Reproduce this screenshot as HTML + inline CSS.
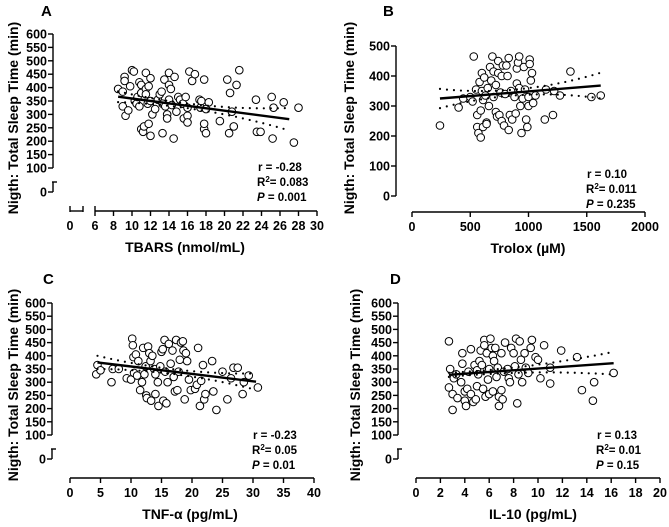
<!DOCTYPE html>
<html><head><meta charset="utf-8"><style>
body{margin:0;background:#fff;}
svg text{font-family:"Liberation Sans",Arial,sans-serif;font-weight:bold;fill:#000;}
</style></head><body>
<svg id="fig" width="669" height="522" viewBox="0 0 669 522" xmlns="http://www.w3.org/2000/svg"></svg>
<script>
// ---- Data ----
const aX=[8.5,9,9.2,9.2,9,9.3,9.6,9.8,10,10.2,10.3,10.5,10.6,10.8,10.8,11,11,11,11.2,11.3,11.5,11.5,11.5,11.7,11.8,12,12,12,11.8,12.2,12.5,12.8,13,13.2,13.3,13.3,13.5,13.6,13.8,13.8,14,14,14,14.2,14.3,14.5,14.6,14.8,15,15.2,15.5,15.6,15.8,16,16,16,16.2,16.5,16.8,17.3,17.4,17.5,17.8,17.8,17.8,18,18,18.3,19.5,20.3,20.5,20.6,20.8,21,21.3,21.6,23.4,23.5,23.9,25.1,25.2,25.3,26.4,27.5,28];
const aY=[395,385,440,425,330,295,315,405,465,460,350,340,365,420,330,380,410,245,235,255,455,395,375,340,265,435,350,220,405,300,320,355,375,385,340,230,430,330,300,285,455,355,410,395,335,210,440,310,365,355,340,285,365,325,295,270,460,425,450,355,325,350,430,245,265,320,230,345,275,430,230,380,310,255,410,465,355,235,235,365,210,325,345,195,325];
const aFit=[8.5,366,27,282]; // x1,y1,x2,y2
const aCI=[[8.5,20],[14,9],[27,42]]; // x, half-width
const bX=[240,400,440,500,520,530,550,560,560,570,580,590,590,600,600,610,610,620,630,640,640,650,660,670,680,690,700,700,720,720,730,740,740,750,760,770,770,780,790,800,810,820,830,830,840,850,860,880,890,900,900,910,920,920,930,940,950,960,970,980,990,1000,1000,1010,1010,1020,1030,1040,1060,1140,1150,1210,1220,1270,1360,1540,1620];
const bY=[235,295,325,330,315,465,355,270,230,210,380,285,195,410,350,320,230,395,335,245,240,360,300,430,385,465,330,415,370,280,265,450,410,270,345,400,250,435,235,340,435,400,460,220,270,350,255,330,275,425,375,445,465,360,300,210,325,430,355,255,230,330,300,455,440,385,410,310,335,255,355,270,350,335,415,330,335];
const bFit=[240,325,1620,368];
const bCI=[[240,32],[800,10],[1620,43]];
const cX=[4.3,4.5,5,6.8,7,8,9.3,10,10.2,10.3,10.4,10.5,10.8,11,11.2,11.5,11.8,12,12.2,12.4,12.5,12.6,12.8,13,13.2,13.3,13.5,13.8,14,14,14.4,14.5,14.8,15,15.2,15.3,15.5,15.6,15.8,16,16.2,16.5,16.8,17,17.2,17.4,17.6,17.8,18,18.2,18.5,18.6,18.8,19,19.2,19.5,19.8,20.5,20.8,21,21.3,21.5,21.8,22,22.2,23.3,23.5,24,25,25.8,26.4,26.8,27.5,28.3,28.5,29.3,30.8];
const cY=[330,365,345,300,350,350,315,310,465,440,395,335,405,325,380,270,300,430,330,360,250,240,435,410,380,230,400,350,330,255,300,210,360,415,425,230,460,340,220,300,445,370,420,320,265,460,270,340,385,450,455,420,235,410,380,310,270,275,290,430,210,305,365,235,255,380,265,195,340,235,315,355,355,255,300,325,280];
const cFit=[4.5,375,30.5,302];
const cCI=[[4.5,25],[16,9],[30.5,31]];
const dX=[2.7,2.7,2.8,3,3,3.1,3.3,3.4,3.7,3.8,3.8,4,4,4.1,4.2,4.3,4.5,4.5,4.7,4.8,4.9,5,5,5.1,5.2,5.3,5.4,5.5,5.6,5.6,5.7,5.8,5.9,6,6,6.1,6.2,6.3,6.3,6.4,6.5,6.6,6.7,6.8,6.8,7,7,7.1,7.2,7.3,7.5,7.6,7.7,7.8,8,8.1,8.2,8.3,8.4,8.5,8.6,8.7,8.9,9,9.2,9.4,9.5,9.8,10,10.2,10.5,11,11,11.9,13.2,13.6,14.5,14.6,16.2];
const dY=[455,280,350,255,195,315,330,240,300,410,370,265,230,210,275,340,425,255,225,365,235,285,345,330,380,420,365,275,460,440,245,410,310,350,255,465,430,400,265,380,430,320,355,245,210,270,410,235,340,450,350,315,300,430,410,360,465,220,330,455,385,300,410,355,335,430,460,395,385,315,440,355,295,420,395,270,230,300,335];
const dFit=[2.7,328,16.2,372];
const dCI=[[2.7,8],[6.5,8],[16.2,43]];
const yTicksBreak=[100,150,200,250,300,350,400,450,500,550,600];
const yTicksB=[0,100,200,300,400,500];
const xTicksA=[6,8,10,12,14,16,18,20,22,24,26,28,30];
const xTicksB=[0,500,1000,1500,2000];
const xTicksC=[0,5,10,15,20,25,30,35,40];
const xTicksD=[0,2,4,6,8,10,12,14,16,18,20];

const NS="http://www.w3.org/2000/svg";
const svg=document.getElementById('fig');
function mk(tag,attrs,parent,text){const e=document.createElementNS(NS,tag);for(const k in attrs)e.setAttribute(k,attrs[k]);if(text!==undefined)e.textContent=text;(parent||svg).appendChild(e);return e;}
function line(g,x1,y1,x2,y2,w){return mk('line',{x1,y1,x2,y2,stroke:'#000','stroke-width':w||1.4},g);}

function panel(P){
  const g=mk('g',{});
  
  
  const sx=v=>P.x0+(v-P.xv0)*(P.x1-P.x0)/(P.xv1-P.xv0);
  const sy=v=>{ if(P.brk && v<P.ybv) return P.yZero; return P.y0+(v-P.yv0)*(P.y1-P.y0)/(P.yv1-P.yv0);};
  const L=mk('text',{x:P.lx,y:P.ly,'font-size':15},g,P.id);
  
  
  const ya=mk('g',{},g);
  
  
  const yTop=sy(P.yTicks[P.yTicks.length-1]), yBot=sy(P.yTicks[0]);
  line(ya,P.ax,yTop,P.ax,yBot);
  P.yTicks.forEach(v=>{const y=sy(v);line(ya,P.ax-5,y,P.ax,y);
    const t=mk('text',{x:P.ax-6,y:y+4.5,'font-size':12.5,'text-anchor':'end'},ya,String(v));
    
    });
  if(P.brk){
    line(ya,P.ax,P.yZero-10,P.ax,P.yZero);
    line(ya,P.ax-1,P.yZero-10,P.ax+4,P.yZero-10);
    line(ya,P.ax-5,P.yZero,P.ax,P.yZero);
    const t=mk('text',{x:P.ax-6,y:P.yZero+4.5,'font-size':12.5,'text-anchor':'end'},ya,'0');
    
    
  }
  const yt=mk('text',{x:0,y:0,'font-size':14,'text-anchor':'middle',transform:`translate(${P.ytx},${P.yty}) rotate(-90)`},g,'Nigth: Total Sleep Time (min)');
  
  
  const xa=mk('g',{},g);
  
  
  line(xa,sx(P.xTicks[0]),P.axy,sx(P.xTicks[P.xTicks.length-1]),P.axy);
  P.xTicks.forEach(v=>{const x=sx(v);line(xa,x,P.axy,x,P.axy+5);
    const t=mk('text',{x:x,y:P.axy+19,'font-size':12.5,'text-anchor':'middle'},xa,String(v));
    
    });
  if(P.xbrk){
    line(xa,P.xbrk[0],P.axy,P.xbrk[1],P.axy);
    line(xa,P.xbrk[0],P.axy-5,P.xbrk[0],P.axy+1);
    line(xa,P.xbrk[1],P.axy-5,P.xbrk[1],P.axy+1);
    line(xa,sx(P.xTicks[0]),P.axy-5,sx(P.xTicks[0]),P.axy);
    const t=mk('text',{x:P.xbrk[0],y:P.axy+19,'font-size':12.5,'text-anchor':'middle'},xa,'0');
    
    
  }
  const xt=mk('text',{x:P.xtx,y:P.axy+41,'font-size':14,'text-anchor':'middle'},g,P.xTitle);
  
  
  const pg=mk('g',{},g);
  
  
  P.xs.forEach((v,i)=>{const c=mk('circle',{cx:sx(v),cy:sy(P.ys[i]),r:3.8,fill:'#fff',stroke:'#000','stroke-width':1},pg);
    
    });
  const f=P.fit, fy=x=>f[1]+(x-f[0])*(f[3]-f[1])/(f[2]-f[0]);
  const ci=P.ci, hw=x=>{let s=0;for(let i=0;i<3;i++){let t=ci[i][1];for(let j=0;j<3;j++)if(j!==i)t*=(x-ci[j][0])/(ci[i][0]-ci[j][0]);s+=t;}return s;};
  [1,-1].forEach(sg=>{let d='';const n=40;for(let k=0;k<=n;k++){const x=f[0]+(f[2]-f[0])*k/n;d+=(k?'L':'M')+sx(x).toFixed(1)+','+sy(fy(x)+sg*hw(x)).toFixed(1);}
    const p=mk('path',{d,fill:'none',stroke:'#000','stroke-width':2.2,'stroke-dasharray':'0 7','stroke-linecap':'round'},g);
    
    });
  const rl=mk('line',{x1:sx(f[0]),y1:sy(f[1]),x2:sx(f[2]),y2:sy(f[3]),stroke:'#000','stroke-width':2.4},g);
  
  
  const st=mk('g',{},g);
  
  
  mk('text',{x:P.stx,y:P.sty,'font-size':11.5},st,'r = '+P.r);
  const t2=mk('text',{x:P.stx-1,y:P.sty+15,'font-size':11.5},st);
  t2.innerHTML='R<tspan dy="-4" font-size="8">2</tspan><tspan dy="4">= '+P.r2+'</tspan>';
  const t3=mk('text',{x:P.stx-1,y:P.sty+30,'font-size':11.5},st);
  t3.innerHTML='<tspan font-style="italic">P</tspan> = '+P.p;
}

panel({id:'A',lx:41,ly:16,ax:53,yTicks:yTicksBreak,brk:true,ybv:100,yZero:192,y0:34,yv0:600,y1:168,yv1:100,
  xv0:6,xv1:30,x0:95,x1:317,xTicks:xTicksA,xbrk:[70,83],axy:211,xtx:185,xTitle:'TBARS (nmol/mL)',
  xs:aX,ys:aY,fit:aFit,ci:aCI,r:'-0.28',r2:'0.083',p:'0.001',stx:258,sty:171,ytx:18,yty:118});
panel({id:'B',lx:383,ly:16,ax:396,yTicks:yTicksB,brk:false,y0:196,yv0:0,y1:46,yv1:500,
  xv0:0,xv1:2000,x0:412,x1:645,xTicks:xTicksB,axy:212,xtx:528,xTitle:'Trolox (\u00B5M)',
  xs:bX,ys:bY,fit:bFit,ci:bCI,r:'0.10',r2:'0.011',p:'0.235',stx:587,sty:178,ytx:354,yty:118});
panel({id:'C',lx:43,ly:284,ax:52,yTicks:yTicksBreak,brk:true,ybv:100,yZero:459,y0:303,yv0:600,y1:435,yv1:100,
  xv0:0,xv1:40,x0:70,x1:314,xTicks:xTicksC,axy:478,xtx:190,xTitle:'TNF-\u03B1 (pg/mL)',
  xs:cX,ys:cY,fit:cFit,ci:cCI,r:'-0.23',r2:'0.05',p:'0.01',stx:253,sty:439,ytx:18,yty:385});
panel({id:'D',lx:390,ly:284,ax:398,yTicks:yTicksBreak,brk:true,ybv:100,yZero:459,y0:303,yv0:600,y1:435,yv1:100,
  xv0:0,xv1:20,x0:416,x1:660,xTicks:xTicksD,axy:478,xtx:533,xTitle:'IL-10 (pg/mL)',
  xs:dX,ys:dY,fit:dFit,ci:dCI,r:'0.13',r2:'0.01',p:'0.15',stx:597,sty:439,ytx:360,yty:385});
</script>
</body></html>
